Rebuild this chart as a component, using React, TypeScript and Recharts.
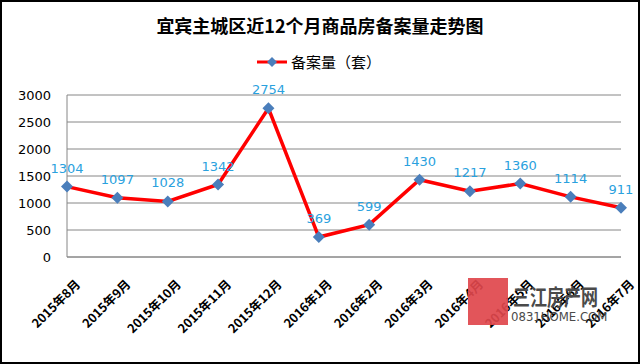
import React from 'react';
import { LineChart, Line, XAxis, YAxis, CartesianGrid, LabelList } from 'recharts';

const months = [
  '2015年8月', '2015年9月', '2015年10月', '2015年11月', '2015年12月', '2016年1月',
  '2016年2月', '2016年3月', '2016年4月', '2016年5月', '2016年6月', '2016年7月',
];
const filings = [1304, 1097, 1028, 1342, 2754, 369, 599, 1430, 1217, 1360, 1114, 911];
const yTicks = [0, 500, 1000, 1500, 2000, 2500, 3000];

const data = months.map((m, i) => ({ month: m, value: filings[i] }));

const numFont = '"DejaVu Sans", Verdana, sans-serif';
const cjkFont = '"Noto Sans CJK SC", "DejaVu Sans", sans-serif';

const Diamond = (props: any) => {
  const { cx, cy } = props;
  if (cx == null || cy == null) return null;
  const r = 6;
  return (
    <path
      d={`M${cx},${cy - r} L${cx + r},${cy} L${cx},${cy + r} L${cx - r},${cy} Z`}
      fill="#4A7EBB"
    />
  );
};

const MonthTick = (props: any) => {
  const { x, y, payload } = props;
  return (
    <g transform={`translate(${x + 11},${y + 17})`}>
      <text
        transform="rotate(-45)"
        textAnchor="end"
        dy="0.35em"
        fontSize={12.5}
        fontWeight="bold"
        fontFamily={cjkFont}
        fill="#000"
      >
        {payload.value}
      </text>
    </g>
  );
};

export default function App() {
  return (
    <div
      style={{
        position: 'absolute',
        left: 0,
        top: 0,
        width: 640,
        height: 364,
        background: '#fff',
        boxSizing: 'border-box',
        border: '2px solid #000',
        overflow: 'hidden',
      }}
    >
      <div
        style={{
          position: 'absolute',
          left: 0,
          top: 12,
          width: 636,
          textAlign: 'center',
          fontFamily: cjkFont,
          fontWeight: 'bold',
          fontSize: 18,
          lineHeight: '22px',
        }}
      >
        宜宾主城区近12个月商品房备案量走势图
      </div>
      <div
        style={{
          position: 'absolute',
          left: 255,
          top: 50,
          display: 'flex',
          alignItems: 'center',
          fontFamily: cjkFont,
          fontSize: 15,
          lineHeight: '20px',
        }}
      >
        <svg width={32} height={14}>
          <line x1={0} y1={7} x2={30} y2={7} stroke="#FF0000" strokeWidth={3} />
          <path d="M15,2 L20,7 L15,12 L10,7 Z" fill="#4A7EBB" />
        </svg>
        <span style={{ marginLeft: 2 }}>备案量（套）</span>
      </div>
      <div style={{ position: 'absolute', left: -2, top: -2 }}>
        <LineChart
          width={640}
          height={364}
          data={data}
          margin={{ top: 95, right: 19, bottom: 10, left: 0 }}
        >
          <CartesianGrid vertical={false} stroke="#868686" strokeWidth={1} />
          <XAxis
            dataKey="month"
            height={97}
            interval={0}
            tick={<MonthTick />}
            tickLine={false}
            axisLine={{ stroke: '#868686' }}
          />
          <YAxis
            width={67}
            domain={[0, 3000]}
            ticks={yTicks}
            tickLine={false}
            tickSize={0}
            tickMargin={16}
            axisLine={{ stroke: '#868686' }}
            tick={{ fontSize: 13, fontFamily: numFont, fill: '#000' }}
          />
          <Line
            type="linear"
            dataKey="value"
            stroke="#FF0000"
            strokeWidth={3.5}
            dot={<Diamond />}
            activeDot={false}
            isAnimationActive={false}
          >
            <LabelList
              dataKey="value"
              position="top"
              offset={14}
              fill="#2AA1DE"
              fontSize={13}
              fontFamily={numFont}
            />
          </Line>
        </LineChart>
      </div>
      <div style={{ position: 'absolute', left: 466, top: 276, width: 40, height: 47, background: '#E0474C', opacity: 0.92 }} />
      <div
        style={{
          position: 'absolute',
          left: 511,
          top: 279,
          fontFamily: cjkFont,
          fontSize: 17,
          lineHeight: '24px',
          color: '#4a4a4a',
          fontWeight: 'bold',
          transform: 'scaleY(1.25)',
          transformOrigin: 'top left',
        }}
      >
        三江房产网
      </div>
      <div
        style={{
          position: 'absolute',
          left: 509,
          top: 307,
          fontFamily: '"Liberation Sans Narrow", "DejaVu Sans Condensed", sans-serif',
          fontSize: 13,
          lineHeight: '16px',
          color: '#4a4a4a',
        }}
      >
        0831HOME.COM
      </div>
    </div>
  );
}
